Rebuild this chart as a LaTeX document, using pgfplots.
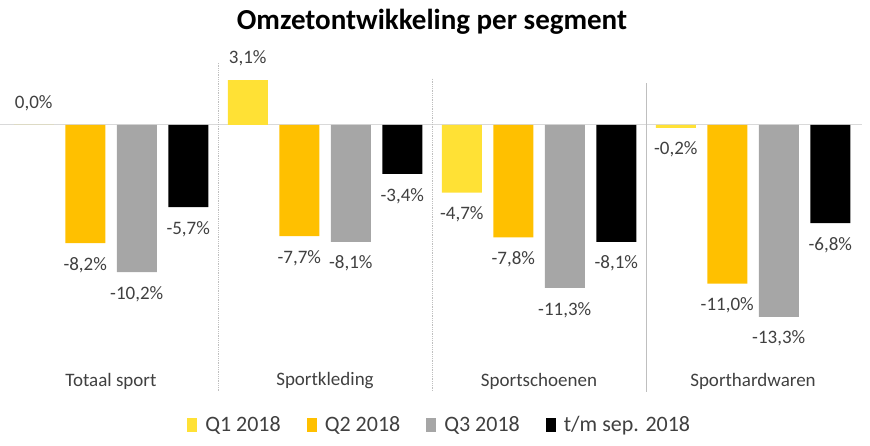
\documentclass[border=0pt]{standalone}
\usepackage{fontspec}
\setmainfont{Carlito}
\usepackage{pgfplots}
\pgfplotsset{compat=1.18}
\definecolor{qone}{HTML}{FFE135}
\definecolor{qtwo}{HTML}{FFC000}
\definecolor{qthree}{HTML}{A6A6A6}
\definecolor{lbl}{HTML}{404040}
\definecolor{sepc}{HTML}{BFBFBF}
\definecolor{zl}{HTML}{D9D9D9}
\pgfplotsset{legsq/.style={legend image code/.code={\fill[##1,draw=none] (0pt,-7pt) rectangle (10pt,7pt);\path (16pt,0pt);}}}
\begin{document}
\begin{tikzpicture}[x=1pt,y=1pt]
\useasboundingbox (0,0) rectangle (870,446);
\node[font=\fontsize{29}{32}\selectfont\bfseries, text=black] at (432,424) {Omzetontwikkeling per segment};
\begin{axis}[
  at={(4pt,83pt)}, anchor=south west,
  scale only axis, width=856pt, height=303pt,
  xmin=-0.5, xmax=3.5, ymin=-16.5, ymax=4.5,
  ybar=11.5pt, bar width=40pt,
  axis line style={draw=none},
  major tick length=0pt,
  ytick=\empty,
  xtick={0,1,2,3},
  xticklabels={Totaal sport, Sportkleding, Sportschoenen, Sporthardwaren},
  xticklabel style={font=\fontsize{19}{22}\selectfont, text=lbl, anchor=center, yshift=-18pt},
  clip=false,
  point meta=y,
  nodes near coords={\pgfmathprintnumber[fixed,fixed zerofill,precision=1,use comma,assume math mode=true]{\pgfplotspointmeta}\%},
  every node near coord/.append style={font=\fontsize{19}{22}\selectfont, text=lbl, inner xsep=0pt, inner ysep=14pt},
  legend columns=4,
  legend style={at={(0.509,-0.205)}, anchor=center, draw=none, fill=none,
    font=\fontsize{22}{24}\selectfont, text=lbl,
    /tikz/every even column/.append style={column sep=24pt}},
]
\draw[zl, line width=1pt] (axis cs:-0.52,0) -- (axis cs:3.51,0);
\draw[sepc, densely dotted, line width=0.8pt] (axis cs:0.5,4.3) -- (axis cs:0.5,-18.5);
\draw[sepc, densely dotted, line width=0.8pt] (axis cs:1.5,3.2) -- (axis cs:1.5,-18.5);
\draw[sepc, line width=0.8pt] (axis cs:2.5,2.9) -- (axis cs:2.5,-18.5);
\addplot[fill=qone, draw=none, legsq] coordinates {(0,0) (1,3.1) (2,-4.7) (3,-0.2)};
\addlegendentry{Q1 2018}
\addplot[fill=qtwo, draw=none, legsq] coordinates {(0,-8.2) (1,-7.7) (2,-7.8) (3,-11.0)};
\addlegendentry{Q2 2018}
\addplot[fill=qthree, draw=none, legsq] coordinates {(0,-10.2) (1,-8.1) (2,-11.3) (3,-13.3)};
\addlegendentry{Q3 2018}
\addplot[fill=black, draw=none, legsq] coordinates {(0,-5.7) (1,-3.4) (2,-8.1) (3,-6.8)};
\addlegendentry{t/m sep. 2018}
\end{axis}
\end{tikzpicture}
\end{document}
